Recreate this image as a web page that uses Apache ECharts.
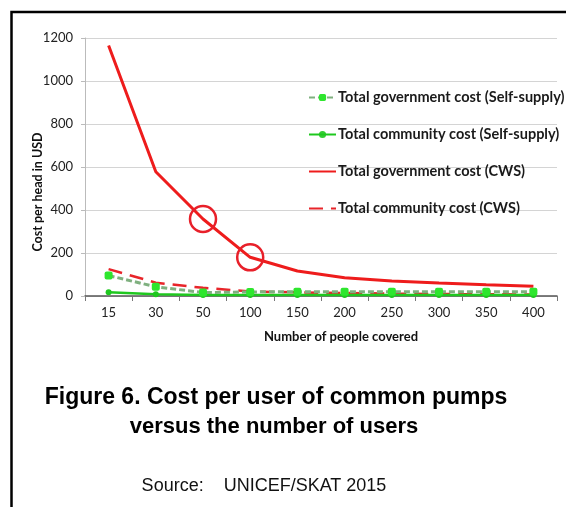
<!DOCTYPE html>
<html>
<head>
<meta charset="utf-8">
<script src="https://cdn.jsdelivr.net/npm/echarts@6/dist/echarts.min.js"></script>
<style>
  html, body { margin: 0; padding: 0; background: #fff; }
  #chart { width: 566px; height: 507px; }
</style>
</head>
<body>
<div id="chart"></div>
<script>
// Number of people covered by one pump
var categories = ['15', '30', '50', '100', '150', '200', '250', '300', '350', '400'];

// Cost per head in USD
var govSelfSupply = [95, 43, 16, 19, 20, 20, 20, 20, 20, 20];
var commSelfSupply = [17, 8, 5, 5, 5, 5, 5, 5, 5, 5];
var govCWS = [1165, 578, 358, 180, 116, 85, 70, 60, 52, 45];
var commCWS = [125, 62, 38, 21, 17, 14, 11, 9, 8, 7];

// Points highlighted with a circle on the CWS government curve
var highlighted = ['50', '100'];

var yTicks = { min: 0, max: 1200, interval: 200 };

var names = [
  'Total government cost (Self-supply)',
  'Total community cost (Self-supply)',
  'Total government cost (CWS)',
  'Total community cost (CWS)'
];

var chart = echarts.init(document.getElementById('chart'), null, { renderer: 'canvas' });

var axisFont = 'Lato, "Open Sans", sans-serif';

chart.setOption({
  animation: false,
  backgroundColor: '#fff',
  grid: { left: 85, right: 9, top: 38, bottom: 211 },
  xAxis: {
    type: 'category',
    data: categories,
    boundaryGap: true,
    axisLine: { lineStyle: { color: '#555', width: 1.5 } },
    axisTick: { show: true, length: 5, lineStyle: { color: '#777' } },
    axisLabel: { color: '#222', fontFamily: axisFont, fontSize: 13, margin: 10 },
    splitLine: { show: false }
  },
  yAxis: {
    type: 'value',
    min: yTicks.min, max: yTicks.max, interval: yTicks.interval,
    axisLine: { show: true, lineStyle: { color: '#bbb' } },
    axisTick: { show: true, length: 4, lineStyle: { color: '#bbb' } },
    axisLabel: {
      color: '#222', fontFamily: axisFont, fontSize: 13, margin: 12,
      formatter: function (v) { return String(v); }
    },
    splitLine: { lineStyle: { color: '#d4d4d4', width: 1 } }
  },
  legend: {
    orient: 'vertical',
    left: 303,
    top: 85,
    itemGap: 22,
    itemWidth: 27,
    itemHeight: 9,
    data: [
      { name: names[0] },
      { name: names[1], itemStyle: { opacity: 0.9 } },
      { name: names[2], itemStyle: { opacity: 0 } },
      { name: names[3], itemStyle: { opacity: 0 } }
    ],
    textStyle: { fontFamily: axisFont, fontWeight: 'bold', fontSize: 14.5, color: '#1a1a1a', padding: [0, 0, 0, -3] }
  },
  series: [
    {
      name: names[2],
      type: 'line',
      data: govCWS,
      symbol: 'none',
      lineStyle: { color: '#ee1c1c', width: 3 },
      itemStyle: { color: '#ee1c1c' },
      z: 2,
      markPoint: {
        symbol: 'circle',
        symbolSize: 26,
        itemStyle: { color: 'rgba(0,0,0,0)', borderColor: '#e8202a', borderWidth: 2.5 },
        label: { show: false },
        data: highlighted.map(function (c) {
          return { coord: [c, govCWS[categories.indexOf(c)]] };
        })
      }
    },
    {
      name: names[3],
      type: 'line',
      data: commCWS,
      symbol: 'none',
      lineStyle: { color: '#e8252a', width: 2.5, type: [14, 8] },
      itemStyle: { color: '#e8252a' },
      z: 2
    },
    {
      name: names[1],
      type: 'line',
      data: commSelfSupply,
      symbol: 'circle',
      symbolSize: 6,
      lineStyle: { color: '#1ec81e', width: 2.5 },
      itemStyle: { color: '#1ec81e' },
      z: 3
    },
    {
      name: names[0],
      type: 'line',
      data: govSelfSupply,
      symbol: 'roundRect',
      symbolSize: 8,
      lineStyle: { color: '#7fb07f', width: 3, type: [6, 3] },
      itemStyle: { color: '#2ee62e' },
      z: 4
    }
  ],
  graphic: [
    // figure frame
    {
      type: 'rect',
      shape: { x: 11.5, y: 12, width: 700, height: 700 },
      style: { fill: 'none', stroke: '#000', lineWidth: 2.5 },
      silent: true
    },
    {
      type: 'text',
      x: 38, y: 192,
      rotation: Math.PI / 2,
      style: {
        text: 'Cost per head in USD',
        font: 'bold 12.5px ' + axisFont,
        fill: '#111',
        textAlign: 'center',
        textVerticalAlign: 'middle'
      }
    },
    {
      type: 'text',
      x: 341, y: 337,
      style: {
        text: 'Number of people covered',
        font: 'bold 13px ' + axisFont,
        fill: '#111',
        textAlign: 'center',
        textVerticalAlign: 'middle'
      }
    },
    {
      type: 'text',
      x: 276, y: 398,
      style: {
        text: 'Figure 6. Cost per user of common pumps',
        font: 'bold 23px "Liberation Sans", Arial, sans-serif',
        fill: '#000',
        textAlign: 'center',
        textVerticalAlign: 'middle'
      }
    },
    {
      type: 'text',
      x: 274, y: 427,
      style: {
        text: 'versus the number of users',
        font: 'bold 22px "Liberation Sans", Arial, sans-serif',
        fill: '#000',
        textAlign: 'center',
        textVerticalAlign: 'middle'
      }
    },
    {
      type: 'text',
      x: 264, y: 486,
      style: {
        text: 'Source:    UNICEF/SKAT 2015',
        font: '18px "Liberation Sans", Arial, sans-serif',
        fill: '#111',
        textAlign: 'center',
        textVerticalAlign: 'middle'
      }
    }
  ]
});
</script>
</body>
</html>
